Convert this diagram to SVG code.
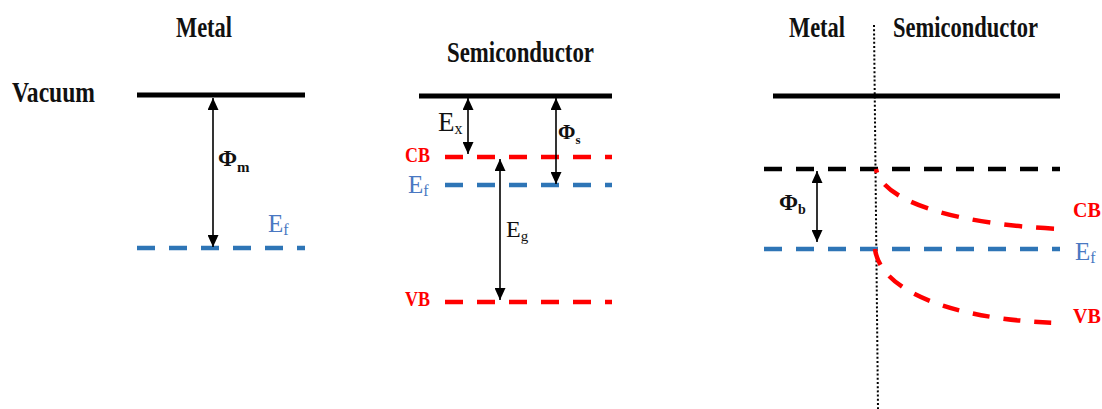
<svg xmlns="http://www.w3.org/2000/svg" width="1102" height="409" viewBox="0 0 1102 409">
  <style>
    .title { font-family: "Liberation Serif", "Times New Roman", serif; font-weight: bold; font-size: 30px; fill: #111; }
    .lbl { font-family: "Liberation Serif", "Times New Roman", serif; fill: #111; }
    .bold { font-weight: bold; }
    .red { font-family: "Liberation Serif", "Times New Roman", serif; font-weight: bold; fill: #FF0000; }
    .ef { font-family: "Liberation Serif", "Times New Roman", serif; fill: #4A78C2; }
    .vac { stroke: #000; stroke-width: 5; fill: none; }
    .dash { stroke-width: 4.5; stroke-dasharray: 18 14; fill: none; }
    .blue { stroke: #2E75B6; }
    .redl { stroke: #FF0000; }
    .blk { stroke: #000; }
    .arr { stroke: #000; stroke-width: 1.6; marker-start: url(#ah); marker-end: url(#ah); }
  </style>
  <defs>
    <marker id="ah" markerUnits="userSpaceOnUse" markerWidth="12" markerHeight="11" refX="12" refY="5.5" orient="auto-start-reverse">
      <path d="M0,0 L12,5.5 L0,11 z" fill="#000"/>
    </marker>
  </defs>
  <rect width="1102" height="409" fill="#fff"/>

  <!-- Panel 1: Metal -->
  <g id="metal-panel">
    <text class="title" x="176" y="37" textLength="56" lengthAdjust="spacingAndGlyphs">Metal</text>
    <text class="title" x="12" y="102" textLength="83" lengthAdjust="spacingAndGlyphs">Vacuum</text>
    <line class="vac" x1="137" y1="95" x2="305" y2="95"/>
    <line class="dash blue" x1="137" y1="248" x2="305" y2="248"/>
    <text class="lbl bold" x="218" y="166" font-size="23">Φ<tspan font-size="15" dy="6">m</tspan></text>
    <text class="ef" x="268" y="232" font-size="25">E<tspan font-size="16" dy="3">f</tspan></text>
  </g>

  <!-- Panel 2: Semiconductor -->
  <g id="semiconductor-panel">
    <text class="title" x="447" y="62" textLength="147" lengthAdjust="spacingAndGlyphs">Semiconductor</text>
    <line class="vac" x1="419" y1="96" x2="612" y2="96"/>
    <line class="dash redl" x1="445" y1="157" x2="612" y2="157"/>
    <line class="dash blue" x1="445" y1="185" x2="612" y2="185"/>
    <line class="dash redl" x1="445" y1="302" x2="612" y2="302"/>
    <text class="red" x="405" y="162" font-size="20" textLength="25" lengthAdjust="spacingAndGlyphs">CB</text>
    <text class="ef" x="408" y="193" font-size="25">E<tspan font-size="16" dy="3">f</tspan></text>
    <text class="red" x="405" y="306" font-size="20" textLength="25" lengthAdjust="spacingAndGlyphs">VB</text>
    <text class="lbl" x="438" y="131" font-size="27">E<tspan font-size="16" dy="3">x</tspan></text>
    <text class="lbl bold" x="558" y="139" font-size="21">Φ<tspan font-size="13" dy="5">s</tspan></text>
    <text class="lbl" x="506" y="237" font-size="24">E<tspan font-size="15" dy="4">g</tspan></text>
  </g>

  <!-- Panel 3: Metal-Semiconductor junction -->
  <g id="junction-panel">
    <text class="title" x="789" y="37" textLength="56" lengthAdjust="spacingAndGlyphs">Metal</text>
    <text class="title" x="893" y="37" textLength="145" lengthAdjust="spacingAndGlyphs">Semiconductor</text>
    <line x1="874" y1="25" x2="878" y2="409" stroke="#000" stroke-width="2" stroke-dasharray="2 2.2"/>
    <line class="vac" x1="773" y1="96" x2="1060" y2="96"/>
    <line class="dash blk" x1="764" y1="169" x2="1060" y2="169"/>
    <line class="dash blue" x1="764" y1="249" x2="1060" y2="249"/>
    <path class="dash redl" d="M876,169 C882,200 950,224 1060,229" stroke-dashoffset="14"/>
    <path class="dash redl" d="M875,249 C880,290 950,320 1060,323" style="stroke-dasharray:17 14"/>
    <text class="lbl bold" x="779" y="210" font-size="23">Φ<tspan font-size="14" dy="4">b</tspan></text>
    <text class="red" x="1073" y="217" font-size="20">CB</text>
    <text class="ef" x="1075" y="260" font-size="25">E<tspan font-size="16" dy="3">f</tspan></text>
    <text class="red" x="1073" y="323" font-size="20">VB</text>
  </g>

  <!-- Connectors (energy arrows) -->
  <g id="connectors">
    <line class="arr" x1="213" y1="98" x2="213" y2="247"/>
    <line class="arr" x1="468" y1="98" x2="468" y2="154"/>
    <line class="arr" x1="556" y1="98" x2="556" y2="184"/>
    <line class="arr" x1="500" y1="159" x2="500" y2="300"/>
    <line class="arr" x1="817" y1="171" x2="817" y2="242"/>
  </g>
</svg>
